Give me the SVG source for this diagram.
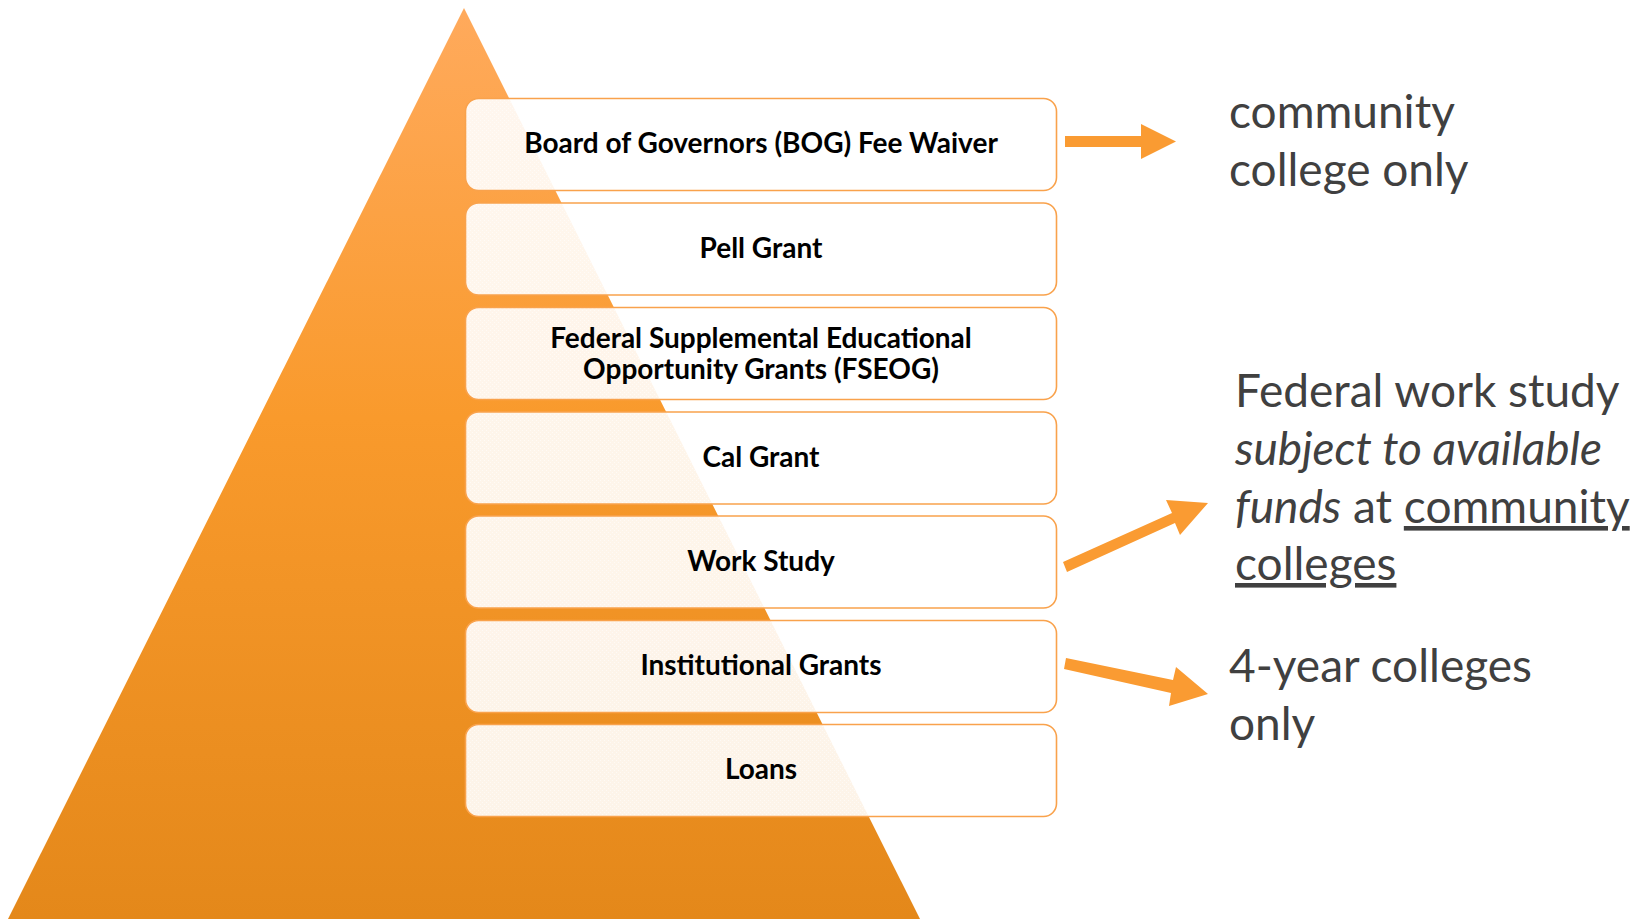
<svg xmlns="http://www.w3.org/2000/svg" width="1644" height="919" viewBox="0 0 1644 919">
  <defs>
    <linearGradient id="pyr" x1="0" y1="0" x2="0" y2="1">
      <stop offset="0" stop-color="#FFAA5C"/>
      <stop offset="0.45" stop-color="#F99A2C"/>
      <stop offset="1" stop-color="#E4881A"/>
    </linearGradient>
    <pattern id="tint" width="4" height="4" patternUnits="userSpaceOnUse">
      <rect width="4" height="4" fill="#FFFFFF" fill-opacity="0.9"/>
      <rect x="0" y="0" width="1" height="1" fill="#FFFFFF" fill-opacity="0.55"/>
      <rect x="2" y="2" width="1" height="1" fill="#FFFFFF" fill-opacity="0.55"/>
    </pattern>
    <style>
      .box { fill: url(#tint); stroke: #F9A24C; stroke-width: 1.6; }
      .lbl { font-family: Lato, "Open Sans", "Liberation Sans", sans-serif; font-weight: 700; font-size: 28px; fill: #000000; text-anchor: middle; }
      .note { font-family: Lato, "Open Sans", "Liberation Sans", sans-serif; font-size: 46px; fill: #404040; }
      .arrow { fill: #FA9B32; }
    </style>
  </defs>

  <rect width="1644" height="919" fill="#FFFFFF"/>

  <!-- pyramid backdrop -->
  <polygon id="pyramid" points="464,8 920,919 8,919" fill="url(#pyr)"/>

  <!-- tiers -->
  <g id="bog">
    <rect class="box" x="465.5" y="98.5" width="591" height="92" rx="13"/>
    <text class="lbl" x="761" y="153">Board of Governors (BOG) Fee Waiver</text>
  </g>
  <g id="pell">
    <rect class="box" x="465.5" y="203" width="591" height="92" rx="13"/>
    <text class="lbl" x="761" y="257.5">Pell Grant</text>
  </g>
  <g id="fseog">
    <rect class="box" x="465.5" y="307.5" width="591" height="92" rx="13"/>
    <text class="lbl" x="761" y="347.5">Federal Supplemental Educational</text>
    <text class="lbl" x="761" y="379">Opportunity Grants (FSEOG)</text>
  </g>
  <g id="calgrant">
    <rect class="box" x="465.5" y="412" width="591" height="92" rx="13"/>
    <text class="lbl" x="761" y="466.5">Cal Grant</text>
  </g>
  <g id="workstudy">
    <rect class="box" x="465.5" y="516" width="591" height="92" rx="13"/>
    <text class="lbl" x="761" y="570.5">Work Study</text>
  </g>
  <g id="institutional">
    <rect class="box" x="465.5" y="620.5" width="591" height="92" rx="13"/>
    <text class="lbl" x="761" y="675">Institutional Grants</text>
  </g>
  <g id="loans">
    <rect class="box" x="465.5" y="724.5" width="591" height="92" rx="13"/>
    <text class="lbl" x="761" y="779">Loans</text>
  </g>

  <!-- connectors -->
  <g id="connectors">
    <polygon class="arrow" points="1065,136 1141,136 1141,124 1176,141.5 1141,159 1141,147 1065,147"/>
    <polygon class="arrow" points="1063,562 1172,513 1166,500 1208,503 1180,535 1175,523 1067,572"/>
    <polygon class="arrow" points="1066,658 1173,680 1176,667 1208,694 1169,706 1171,693 1064,669"/>
  </g>

  <!-- side notes -->
  <g id="note-community">
    <text class="note" x="1229" y="128">community</text>
    <text class="note" x="1229" y="186">college only</text>
  </g>
  <g id="note-workstudy">
    <text class="note" x="1235" y="407">Federal work study</text>
    <text class="note" x="1235" y="465" font-style="italic">subject to available</text>
    <text class="note" x="1235" y="523"><tspan font-style="italic">funds</tspan> at <tspan text-decoration="underline">community</tspan></text>
    <text class="note" x="1235" y="580" text-decoration="underline">colleges</text>
  </g>
  <g id="note-fouryear">
    <text class="note" x="1229" y="682">4-year colleges</text>
    <text class="note" x="1229" y="740">only</text>
  </g>
</svg>
